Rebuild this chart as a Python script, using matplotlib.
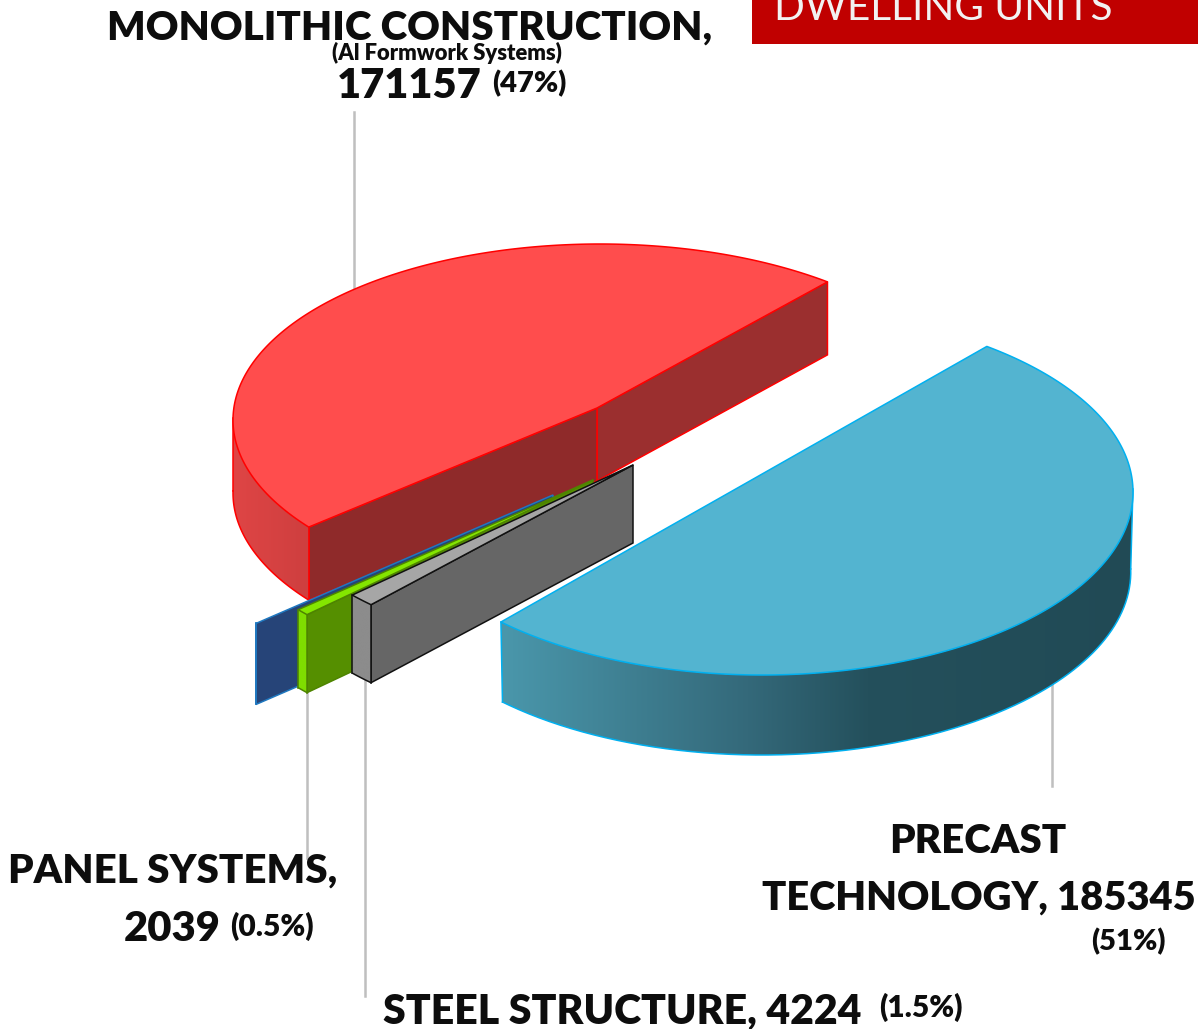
import numpy as np
import matplotlib
matplotlib.use('Agg')
import matplotlib.pyplot as plt
from matplotlib.colors import to_rgb
from matplotlib.patches import Polygon

# dwelling units per technology
names = ['PRECAST TECHNOLOGY', 'MONOLITHIC CONSTRUCTION', 'STEEL STRUCTURE', 'PANEL SYSTEMS', 'OTHER']
units = [185345, 171157, 4224, 2039, 0]
shown_pct = ['(51%)', '(47%)', '(1.5%)', '(0.5%)', '']

W, H = 1204, 1029

# exploded 3D look: ellipse of the pie disc, tip of the wedge, thickness, first angle, going direction
# stretch is the small perspective correction of the sweep, taper narrows the lower rim
layout = {
    'PRECAST TECHNOLOGY': dict(cx=762, cy=492, rx=371, ry=183, tipx=744, tipy=484.3, depth=80,
                               start=52.7, sign=-1, stretch=1.019, taper=0.994),
    'MONOLITHIC CONSTRUCTION': dict(cx=600, cy=420, rx=367, ry=176, tipx=597, tipy=408, depth=73,
                                    start=51.7, sign=1, stretch=0.976, taper=1.0),
    'STEEL STRUCTURE': dict(cx=636, cy=477, rx=376, ry=180, tipx=633, tipy=465, depth=78,
                            start=221, sign=1, stretch=1.0, taper=1.0),
    'PANEL SYSTEMS': dict(cx=596, cy=492, rx=386, ry=185, tipx=593, tipy=480, depth=78,
                          start=219.5, sign=1, stretch=1.0, taper=1.0),
    'OTHER': dict(cx=556, cy=507, rx=386, ry=185, tipx=553, tipy=495, depth=81,
                  start=219, sign=1, stretch=1.0, taper=1.0),
}

styles = {
    'PRECAST TECHNOLOGY': dict(top='#53B4D0', edge='#00B0F0', side1='#214B57', side2='#214B57',
                               grad=[(0.0, '#4A97AB'), (0.39, '#34697A'), (0.58, '#24505C'), (1.0, '#214A55')]),
    'MONOLITHIC CONSTRUCTION': dict(top='#FF4D4D', edge='#FF0000', side1='#9B2F2F', side2='#8F2A2A',
                                    grad=[(0.0, '#DF4545'), (1.0, '#CE3F3F')]),
    'STEEL STRUCTURE': dict(top='#A6A6A6', edge='#111111', side1='#666666', side2='#666666',
                            grad=[(0.0, '#8C8C8C'), (1.0, '#8C8C8C')]),
    'PANEL SYSTEMS': dict(top='#84E600', edge='#4E8400', side1='#558F00', side2='#558F00',
                          grad=[(0.0, '#7FDD00'), (1.0, '#7FDD00')]),
    'OTHER': dict(top='#264478', edge='#1F78C0', side1='#264478', side2='#264478',
                  grad=[(0.0, '#264478'), (1.0, '#264478')]),
}


def rim(s, t):
    """Point(s) on the disc ellipse, t in degrees"""
    t = np.radians(t)
    return s['cx'] + s['rx'] * np.cos(t), s['cy'] - s['ry'] * np.sin(t)


def side_face(ax, s, t, color, edge, lw):
    x, y = rim(s, t)
    d = s['depth']
    ax.fill([s['tipx'], x, x, s['tipx']], [s['tipy'], y, y + d, s['tipy'] + d],
            facecolor=color, edgecolor=edge, lw=lw, zorder=s['z'])


def draw_slice(ax, name, value, total, z):
    s = dict(layout[name])
    st = styles[name]
    s['z'] = z
    sweep = value / total * 360 * s['stretch'] * s['sign']
    t0 = s['start']
    t1 = t0 + sweep
    d = s['depth']
    lw = 1.1

    tt = np.linspace(t0, t1, max(int(abs(sweep) * 2), 2))

    # faces looking at the viewer
    if name == 'MONOLITHIC CONSTRUCTION':
        side_face(ax, s, t0, st['side1'], st['edge'], lw)
        side_face(ax, s, t1, st['side2'], st['edge'], lw)
    elif name != 'PRECAST TECHNOLOGY':
        side_face(ax, s, t1, st['side1'], st['edge'], lw)

    # outer wall, only the front part shows
    wall = tt[np.sin(np.radians(tt)) <= 0.02]
    if len(wall) > 1:
        x, y = rim(s, wall)
        xb = s['cx'] + (x - s['cx']) * s['taper']
        xmin, xmax = x.min(), x.max()
        stops = [p[0] for p in st['grad']]
        cols = np.array([to_rgb(p[1]) for p in st['grad']])
        fr = np.linspace(0, 1, 256)
        row = np.stack([np.interp(fr, stops, cols[:, k]) for k in range(3)], axis=1)[None, :, :]
        im = ax.imshow(row, extent=(xmin, xmax, (y + d).max(), y.min()), aspect='auto', zorder=z)
        poly = Polygon(np.c_[np.r_[x, xb[::-1]], np.r_[y, (y + d)[::-1]]], closed=True,
                       transform=ax.transData, facecolor='none', edgecolor='none')
        ax.add_patch(poly)
        im.set_clip_path(poly)
        ax.plot(xb, y + d, color=st['edge'], lw=lw, zorder=z)
        ax.plot([x[-1], xb[-1]], [y[-1], y[-1] + d], color=st['edge'], lw=lw, zorder=z)
        ax.plot([x[0], xb[0]], [y[0], y[0] + d], color=st['edge'], lw=lw, zorder=z)

    # top of the wedge
    x, y = rim(s, tt)
    if value > 0:
        ax.fill(np.r_[s['tipx'], x], np.r_[s['tipy'], y], facecolor=st['top'],
                edgecolor=st['edge'], lw=lw, zorder=z, joinstyle='round')


fig = plt.figure(figsize=(W / 100, H / 100), dpi=100)
ax = fig.add_axes([0, 0, 1, 1])

total = sum(units)

# leader lines
lead = '#BFBFBF'
ax.plot([354, 354], [112, 295], color=lead, lw=1.8, zorder=1)
ax.plot([1052, 1052], [680, 786], color=lead, lw=1.8, zorder=1)
ax.plot([307, 307], [685, 858], color=lead, lw=1.8, zorder=1)
ax.plot([365, 365], [680, 996], color=lead, lw=1.8, zorder=1)

draw_order = ['MONOLITHIC CONSTRUCTION', 'OTHER', 'PANEL SYSTEMS', 'STEEL STRUCTURE', 'PRECAST TECHNOLOGY']
for i, name in enumerate(draw_order):
    draw_slice(ax, name, units[names.index(name)], total, 2 + i)

ax.set_xlim(0, W)
ax.set_ylim(H, 0)
ax.axis('off')

# title box, cut by the top of the picture
ax.add_patch(plt.Rectangle((752, 0), 446, 44, facecolor='#C00000', edgecolor='none', zorder=1))
ax.text(774, 20, 'DWELLING UNITS', color='#F2F2F2', fontsize=29.2, family='Lato',
        va='baseline', ha='left', zorder=3)


def label(x, y, txt, size, ha='left'):
    ax.text(x, y, txt, fontsize=size, family='Lato', weight='heavy', color='#0D0D0D',
            ha=ha, va='baseline', zorder=10)


label(107, 40, names[1] + ',', 29)
label(447, 60, '(Al Formwork Systems)', 15.8, 'center')
label(337, 98, str(units[1]), 30)
label(492, 92, shown_pct[1], 21)

label(978, 853, 'PRECAST', 29, 'center')
label(1196, 910, 'TECHNOLOGY, ' + str(units[0]), 28.7, 'right')
label(1091, 950, shown_pct[0], 21)

label(8, 883, names[3] + ',', 29)
label(124, 941, str(units[3]), 30)
label(230, 936, shown_pct[3], 21.5)

label(383, 1024, names[2] + ', ' + str(units[2]), 29.5)
label(879, 1017, shown_pct[2], 21.5)

fig.savefig('out.png', dpi=100)
